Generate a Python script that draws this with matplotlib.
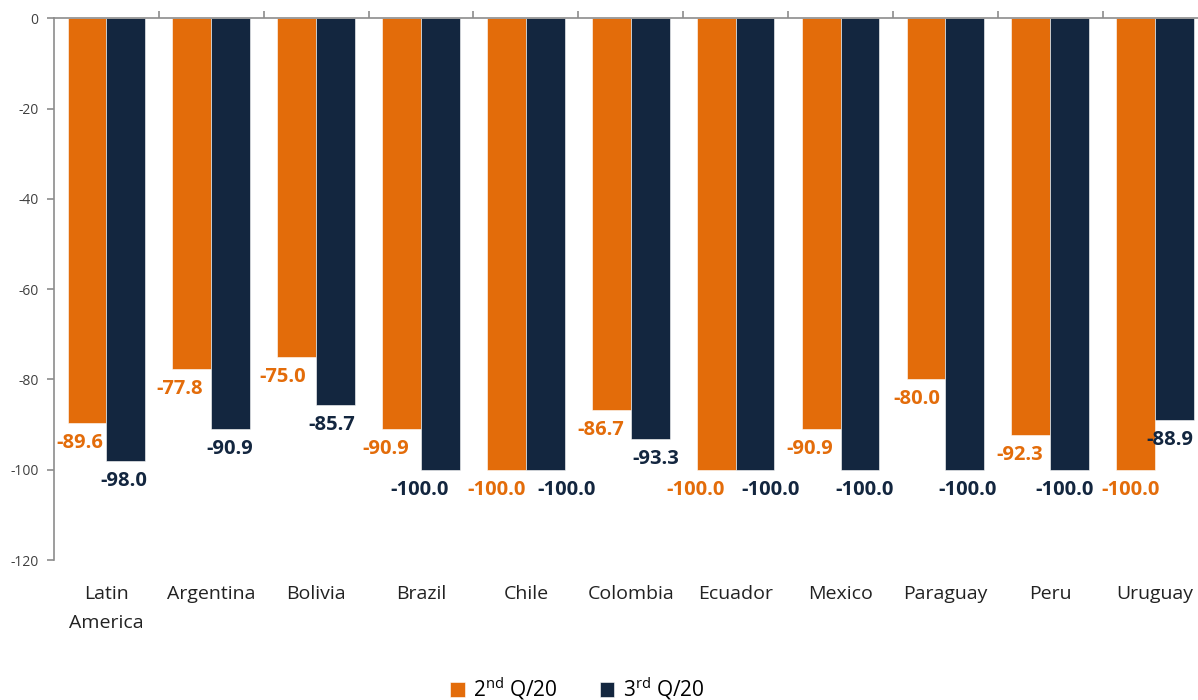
import matplotlib.pyplot as plt
import numpy as np

plt.rcParams['font.family'] = ['Open Sans', 'DejaVu Sans']
plt.rcParams['mathtext.fontset'] = 'custom'
plt.rcParams['mathtext.rm'] = 'Open Sans'
plt.rcParams['axes.unicode_minus'] = False

countries = ["Latin\nAmerica", "Argentina", "Bolivia", "Brazil", "Chile", "Colombia",
             "Ecuador", "Mexico", "Paraguay", "Peru", "Uruguay"]
q2 = [-89.6, -77.8, -75.0, -90.9, -100.0, -86.7, -100.0, -90.9, -80.0, -92.3, -100.0]
q3 = [-98.0, -90.9, -85.7, -100.0, -100.0, -93.3, -100.0, -100.0, -100.0, -100.0, -88.9]
series_labels = ["2$^{\\rm nd}$ Q/20", "3$^{\\rm rd}$ Q/20"]

# hand nudges (pixels) of the value labels, as placed in the original so they don't collide
nudge_q2 = [-7, -12, -14, -16, -10, -11, -21, -11, -9, -11, -5]
nudge_q3 = [-2, -1, -4, -21, 21, 6, 16, 5, 3, -5, -5]

orange = "#E36C0A"
navy = "#13263F"

fig = plt.figure(figsize=(11.98, 7), dpi=100)
ax = fig.add_axes([0.045, 0.2, 0.963, 0.774])

x = np.arange(len(countries))
w = 0.37
b1 = ax.bar(x - w / 2, q2, w, color=orange, edgecolor="white", linewidth=0.4, label=series_labels[0])
b2 = ax.bar(x + w / 2, q3, w, color=navy, edgecolor="white", linewidth=0.4, label=series_labels[1])

for bars, vals, col, nudges in [(b1, q2, orange, nudge_q2), (b2, q3, navy, nudge_q3)]:
    for r, v, dx in zip(bars, vals, nudges):
        ax.annotate(f"{v:.1f}", (r.get_x() + r.get_width() / 2, v),
                    xytext=(dx, -20), textcoords="offset pixels",
                    ha="center", va="center", color=col,
                    fontsize=14.5, fontweight="bold")

ax.set_ylim(-120, 0)
ax.set_yticks(range(-120, 1, 20))
ax.set_xlim(-0.5, len(countries) - 0.5)
ax.set_xticks(x)
ax.set_xticklabels(countries, fontsize=14, color="#222222", linespacing=1.75)
ax.set_xticks(np.arange(0.5, len(countries) - 1, 1), minor=True)

for s in ["right", "bottom"]:
    ax.spines[s].set_visible(False)
ax.spines["left"].set_color("#8c8c8c")
ax.spines["top"].set_color("#8c8c8c")
ax.spines["left"].set_linewidth(1.2)
ax.spines["top"].set_linewidth(1.2)

ax.tick_params(axis="x", which="major", length=0, pad=18)
ax.tick_params(axis="x", which="minor", top=True, bottom=False, direction="out",
               length=5, color="#8c8c8c", width=1.2)
ax.tick_params(axis="y", length=5, color="#8c8c8c", width=1.2, labelsize=10,
               labelcolor="#404040", pad=6)

fig.legend(loc="lower center", bbox_to_anchor=(0.482, -0.03), ncol=2, frameon=False,
           fontsize=15, handlelength=0.7, handleheight=0.7, handletextpad=0.4,
           columnspacing=2.0)

fig.savefig("out.png", dpi=100)
